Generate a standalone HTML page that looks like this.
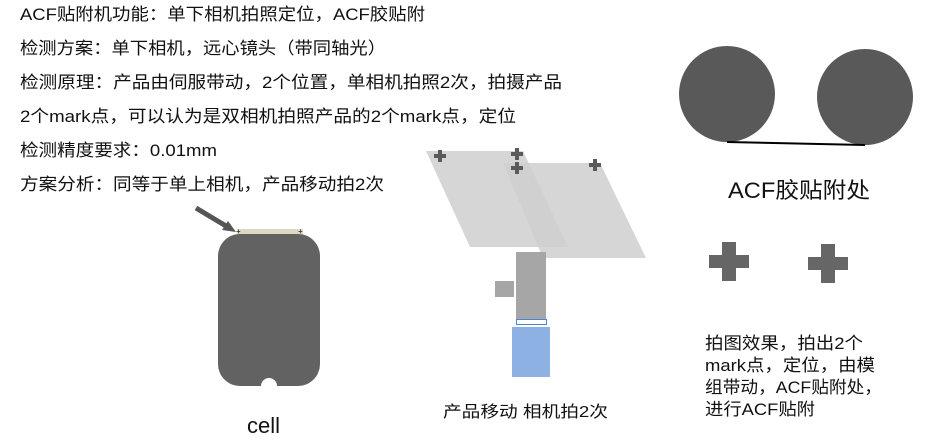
<!DOCTYPE html>
<html><head><meta charset="utf-8"><style>
body{margin:0;width:927px;height:440px;background:#fff;position:relative;overflow:hidden;font-family:"Liberation Sans","Noto Sans CJK SC",sans-serif;color:#111}
text{font-family:"Liberation Sans","Noto Sans CJK SC",sans-serif;fill:#111}
</style></head><body>
<svg width="927" height="440" style="position:absolute;left:0;top:0">
<g font-size="17">
<text x="20" y="20" textLength="405" lengthAdjust="spacingAndGlyphs">ACF贴附机功能：单下相机拍照定位，ACF胶贴附</text>
<text x="20" y="54" textLength="366" lengthAdjust="spacingAndGlyphs">检测方案：单下相机，远心镜头（带同轴光）</text>
<text x="20" y="88" textLength="542" lengthAdjust="spacingAndGlyphs">检测原理：产品由伺服带动，2个位置，单相机拍照2次，拍摄产品</text>
<text x="20" y="122" textLength="496" lengthAdjust="spacingAndGlyphs">2个mark点，可以认为是双相机拍照产品的2个mark点，定位</text>
<text x="20" y="156" textLength="197" lengthAdjust="spacingAndGlyphs">检测精度要求：0.01mm</text>
<text x="20" y="190" textLength="364" lengthAdjust="spacingAndGlyphs">方案分析：同等于单上相机，产品移动拍2次</text>
</g>
<line x1="196" y1="208" x2="226" y2="226" stroke="#555" stroke-width="5"/>
<polygon points="236,232 222,230 228,221" fill="#555"/>
<rect x="237" y="229" width="66" height="6" fill="#ddd8c2"/>
<text x="236" y="234" font-size="8" fill="#333">+</text><text x="298" y="234" font-size="8" fill="#333">+</text>
<rect x="218" y="234" width="102" height="152" rx="22" fill="#626262"/>
<circle cx="269" cy="386" r="8" fill="#fff"/>
<polygon points="426,151 523,151 568,247 470,247" fill="#cfcfcf" opacity="0.85"/>
<polygon points="503,163 600,163 646,258 543,258" fill="#cfcfcf" opacity="0.85"/>
<g fill="#5a5a5a">
<rect x="434" y="154" width="12" height="4"/><rect x="438" y="150" width="4" height="12"/>
<rect x="511" y="152" width="12" height="4"/><rect x="515" y="148" width="4" height="12"/>
<rect x="511" y="166" width="12" height="4"/><rect x="515" y="162" width="4" height="12"/>
<rect x="589" y="163" width="12" height="4"/><rect x="593" y="159" width="4" height="12"/>
</g>
<rect x="516" y="252" width="30" height="67" fill="#a6a6a6"/>
<rect x="495" y="281" width="19" height="16" fill="#a6a6a6"/>
<rect x="516.5" y="319.5" width="30" height="5" fill="#fff" stroke="#4a86d0" stroke-width="1"/>
<rect x="512" y="327" width="38" height="50" fill="#8db1e2"/>
<circle cx="727" cy="94" r="48" fill="#595959"/>
<circle cx="865" cy="97" r="48" fill="#595959"/>
<line x1="727" y1="142" x2="865" y2="145" stroke="#000" stroke-width="2"/>
<g fill="#666">
<rect x="709" y="255" width="40" height="13"/><rect x="722" y="242" width="14" height="39"/>
<rect x="808" y="257" width="40" height="13"/><rect x="821" y="244" width="14" height="39"/>
</g>
<text x="728" y="198" font-size="22" textLength="142" lengthAdjust="spacingAndGlyphs">ACF胶贴附处</text>
<g font-size="17">
<text x="705" y="349" textLength="158" lengthAdjust="spacingAndGlyphs">拍图效果，拍出2个</text>
<text x="705" y="371" textLength="170" lengthAdjust="spacingAndGlyphs">mark点，定位，由模</text>
<text x="705" y="393" textLength="177" lengthAdjust="spacingAndGlyphs">组带动，ACF贴附处，</text>
<text x="705" y="415" textLength="110" lengthAdjust="spacingAndGlyphs">进行ACF贴附</text>
</g>
<text x="443" y="417" font-size="16" textLength="165" lengthAdjust="spacingAndGlyphs">产品移动 相机拍2次</text>
<text x="247" y="433" font-size="22">cell</text>
</svg>
</body></html>
